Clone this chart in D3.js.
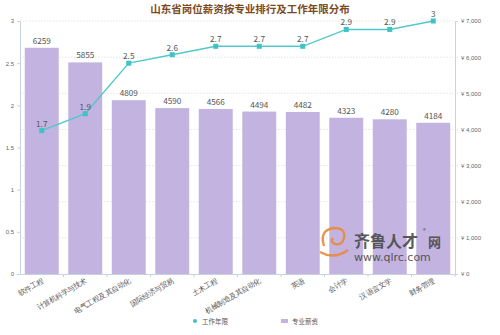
<!DOCTYPE html>
<html><head><meta charset="utf-8">
<script src="https://cdn.jsdelivr.net/npm/d3@7"></script>
<style>body{margin:0;background:#fff;}svg{display:block;font-family:"Noto Sans CJK SC","Noto Sans",sans-serif;}</style>
</head><body><svg id="c" width="500" height="335"></svg>
<script>
const categories = ["软件工程","计算机科学与技术","电气工程及其自动化","国际经济与贸易","土木工程","机械制造及其自动化","英语","会计学","汉语言文学","财务管理"];
const salary = [6259,5855,4809,4590,4566,4494,4482,4323,4280,4184];
const years = [1.7,1.9,2.5,2.6,2.7,2.7,2.7,2.9,2.9,3];
const leftTicks = [0,0.5,1,1.5,2,2.5,3];
const rightTicks = [0,1000,2000,3000,4000,5000,6000,7000];

const svg = d3.select("#c");
const L = 20, R = 455, T = 21, B = 274;
const x = d3.scaleBand().domain(categories).range([L,R]).paddingInner(0.22).paddingOuter(0.11);
const yL = d3.scaleLinear().domain([0,3]).range([B,T]);
const yR = d3.scaleLinear().domain([0,7000]).range([B,T]);

// gridlines (right axis)
svg.append("g").selectAll("line").data(rightTicks.slice(1)).join("line")
  .attr("x1",L).attr("x2",R).attr("y1",d=>yR(d)).attr("y2",d=>yR(d))
  .attr("stroke","#d8d8d8").attr("stroke-width",0.7).attr("stroke-dasharray","1.5,1.5");

// bars
svg.append("g").selectAll("rect").data(salary).join("rect")
  .attr("x",(d,i)=>x(categories[i])).attr("width",x.bandwidth())
  .attr("y",d=>yR(d)).attr("height",d=>B-yR(d)).attr("fill","#c2b3e1");
svg.append("g").selectAll("text").data(salary).join("text")
  .attr("x",(d,i)=>x(categories[i])+x.bandwidth()/2).attr("y",d=>yR(d)-4)
  .attr("text-anchor","middle").attr("font-size",8.2).attr("fill","#555").text(d=>d);

// watermark
const wm = svg.append("g").attr("opacity",0.9);
wm.append("path").attr("d","M324,246 q-5,-16 10,-18 q12,0 10,10 q-2,8 -9,6 q-5,-2 -2,-6 M320,252 q14,8 28,-2")
  .attr("fill","none").attr("stroke","#e98a3a").attr("stroke-width",2.4);
wm.append("text").attr("x",354).attr("y",247).attr("font-size",16).attr("font-weight","bold").attr("fill","#4a4a4a").text("齐鲁人才");
wm.append("text").attr("x",423).attr("y",233).attr("font-size",6).attr("fill","#4a4a4a").text("®");
wm.append("text").attr("x",428).attr("y",247).attr("font-size",13).attr("font-weight","bold").attr("fill","#4a4a4a").text("网");
wm.append("text").attr("x",354).attr("y",261).attr("font-size",11).attr("fill","#4a4a4a").attr("font-family","DejaVu Sans").text("www.qlrc.com");

// axes
const axL = svg.append("g").attr("transform",`translate(${L},0)`)
  .call(d3.axisLeft(yL).tickValues(leftTicks).tickSize(3).tickFormat(d3.format("")));
const axR = svg.append("g").attr("transform",`translate(${R},0)`)
  .call(d3.axisRight(yR).tickValues(rightTicks).tickSize(3).tickFormat(d=>"¥ "+d3.format(",")(d)));
[axL,axR].forEach(a=>{
  a.select(".domain").attr("stroke","#c7d3de");
  a.selectAll(".tick line").attr("stroke","#c7d3de");
  a.selectAll(".tick text").attr("font-size",6).attr("fill","#666");
});
axR.selectAll(".tick line").attr("stroke-dasharray","1,1");
const axB = svg.append("g").attr("transform",`translate(0,${B})`).call(d3.axisBottom(x).tickSize(3).tickSizeOuter(0));
axB.select(".domain").attr("stroke","#c7d3de");
axB.selectAll(".tick line").attr("stroke","#c7d3de").attr("transform",`translate(${x.step()/2},0)`);
axB.selectAll(".tick text").attr("font-size",7.3).attr("fill","#555")
  .attr("text-anchor","end").attr("dx",0).attr("dy",0).attr("y",0)
  .attr("transform","translate(2,8) rotate(-30)");

// line
const line = d3.line().x((d,i)=>x(categories[i])+x.bandwidth()/2).y(d=>yL(d));
svg.append("path").datum(years).attr("d",line).attr("fill","none").attr("stroke","#4fc9cc").attr("stroke-width",1.4);
svg.append("g").selectAll("rect").data(years).join("rect")
  .attr("x",(d,i)=>x(categories[i])+x.bandwidth()/2-2.5).attr("y",d=>yL(d)-2.5)
  .attr("width",5).attr("height",5).attr("fill","#3fc2c4");
svg.append("g").selectAll("text").data(years).join("text")
  .attr("x",(d,i)=>x(categories[i])+x.bandwidth()/2).attr("y",d=>yL(d)-4)
  .attr("text-anchor","middle").attr("font-size",8.2).attr("fill","#555").text(d=>d);

// title
svg.append("text").attr("x",250).attr("y",12.5).attr("text-anchor","middle")
  .attr("font-size",10.5).attr("font-weight","bold").attr("fill","#7a4a1e").text("山东省岗位薪资按专业排行及工作年限分布");

// legend
svg.append("circle").attr("cx",195).attr("cy",321).attr("r",2).attr("fill","#3fc2c4");
svg.append("text").attr("x",202).attr("y",323.5).attr("font-size",6.5).attr("fill","#555").text("工作年限");
svg.append("rect").attr("x",281).attr("y",319).attr("width",7).attr("height",4).attr("fill","#c2b3e1");
svg.append("text").attr("x",292).attr("y",323.5).attr("font-size",6.5).attr("fill","#555").text("专业薪资");
</script></body></html>
